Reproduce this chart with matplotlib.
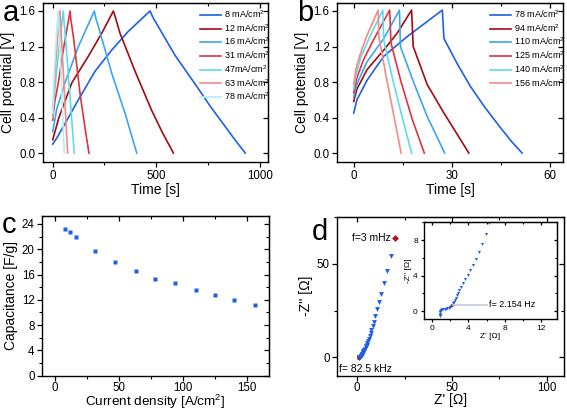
import matplotlib
matplotlib.use('Agg')
import matplotlib.pyplot as plt
from matplotlib.ticker import MultipleLocator

plt.rcParams['font.family'] = ['Liberation Sans', 'DejaVu Sans']
plt.rcParams['mathtext.fontset'] = 'custom'
plt.rcParams['mathtext.rm'] = 'Liberation Sans'

# panel a: galvanostatic charge/discharge, low current densities
a_labels = ['8 mA/cm$^2$', '12 mA/cm$^2$', '16 mA/cm$^2$', '31 mA/cm$^2$',
            '47mA/cm$^2$', '63 mA/cm$^2$', '78 mA/cm$^2$']
a_colors = ['#1f5fe8', '#a30a12', '#3aa6f2', '#e0323f', '#5fdbe8', '#f28a86', '#b2eef5']
a_time = [
    [0, 20, 59, 124, 204, 285, 365, 470, 486, 591, 696, 760, 820, 880, 930],
    [0, 30, 92, 172, 237, 293, 300, 325, 398, 478, 530, 583],
    [0, 20, 59, 124, 201, 208, 220, 285, 349, 406],
    [0, 10, 27, 51, 84, 88, 100, 132, 155, 175],
    [0, 8, 20, 35, 51, 55, 70, 88, 104],
    [0, 6, 14, 24, 35, 38, 48, 60, 72],
    [0, 5, 11, 18, 27, 30, 38, 47, 56],
]
a_volt = [
    [0.10, 0.17, 0.33, 0.60, 0.92, 1.16, 1.37, 1.60, 1.52, 1.10, 0.75, 0.53, 0.34, 0.15, 0.0],
    [0.15, 0.40, 0.79, 1.09, 1.35, 1.60, 1.55, 1.35, 0.92, 0.48, 0.23, 0.0],
    [0.24, 0.50, 0.79, 1.20, 1.60, 1.52, 1.43, 0.90, 0.45, 0.0],
    [0.37, 0.58, 0.79, 1.16, 1.60, 1.50, 1.31, 0.67, 0.30, 0.0],
    [0.40, 0.66, 0.95, 1.28, 1.60, 1.48, 1.05, 0.50, 0.0],
    [0.42, 0.70, 1.00, 1.30, 1.60, 1.48, 1.05, 0.52, 0.0],
    [0.45, 0.75, 1.05, 1.32, 1.60, 1.47, 1.05, 0.50, 0.0],
]

# panel b: galvanostatic charge/discharge, high current densities
b_labels = ['78 mA/cm$^2$', '94 mA/cm$^2$', '110 mA/cm$^2$', '125 mA/cm$^2$',
            '140 mA/cm$^2$', '156 mA/cm$^2$']
b_colors = ['#1f5fe8', '#a30a12', '#3aa6f2', '#e0323f', '#5fdbe8', '#f28a86']
b_time = [
    [0, 1, 4.1, 9.2, 16.3, 27.1, 27.6, 31.6, 35.7, 40, 45, 48.5, 51.5],
    [0, 1, 4.1, 9.2, 13.3, 17.7, 18.2, 22.5, 27.6, 31.5, 35.2],
    [0, 1, 4.1, 9.2, 14.0, 14.3, 18.4, 22.5, 25.5, 27.8],
    [0, 1, 3, 6, 11.0, 11.4, 14.5, 18, 21.6],
    [0, 0.8, 2.2, 4.8, 8.9, 9.2, 12, 15, 17.7],
    [0, 0.7, 1.8, 3.9, 7.5, 7.7, 10, 12.5, 14.5],
]
b_volt = [
    [0.45, 0.60, 0.82, 1.09, 1.31, 1.61, 1.29, 1.01, 0.75, 0.52, 0.28, 0.12, 0.0],
    [0.58, 0.72, 0.94, 1.16, 1.35, 1.61, 1.20, 0.77, 0.45, 0.22, 0.0],
    [0.63, 0.78, 1.03, 1.29, 1.61, 1.20, 0.79, 0.41, 0.18, 0.0],
    [0.68, 0.85, 1.05, 1.27, 1.61, 1.24, 0.80, 0.37, 0.0],
    [0.72, 0.90, 1.08, 1.30, 1.61, 1.27, 0.82, 0.38, 0.0],
    [0.77, 0.95, 1.09, 1.31, 1.61, 1.31, 0.85, 0.38, 0.0],
]

# panel c: capacitance vs current density
c_current = [8, 12, 16, 31, 47, 63, 78, 94, 110, 125, 140, 156]
c_capacitance = [23.2, 22.8, 22.0, 19.7, 17.9, 16.5, 15.3, 14.7, 13.5, 12.7, 11.9, 11.1]

# panel d: Nyquist plot
z_real = [0.85, 0.85, 0.86, 0.87, 0.89, 0.92, 0.98, 1.08, 1.2, 1.35, 1.5, 1.65, 1.8,
          1.95, 2.05, 2.15, 2.25, 2.35, 2.48, 2.6, 2.73, 2.87, 3.0, 3.12, 3.35, 3.6,
          3.9, 4.2, 4.53, 4.82, 5.16, 5.49, 5.89, 6.29, 6.7, 7.1, 7.6, 8.2, 8.9, 9.7,
          10.6, 11.6, 12.8, 14.2, 15.9, 17.7]
z_imag = [-0.6, -0.45, -0.3, -0.15, -0.02, 0.08, 0.15, 0.2, 0.22, 0.24, 0.26, 0.3, 0.36,
          0.45, 0.55, 0.68, 0.85, 1.05, 1.28, 1.52, 1.78, 2.05, 2.35, 2.68, 3.13, 3.59,
          4.08, 4.57, 5.21, 5.85, 6.64, 7.55, 8.68, 9.93, 11.3, 12.8, 14.5, 16.6, 19.0, 22.0,
          25.6, 29.6, 34.0, 39.5, 46.3, 54.0]
f_low = (20.1, 64.1)      # f = 3 mHz
f_high = (0.3, -0.3)      # f = 82.5 kHz
f_knee = (2.15, 0.68)     # f = 2.154 Hz

BLUE = '#1f5fe8'
RED = '#b0141c'
LABEL = 10


def style_axes(ax, xmaj, xmin, ymaj, ymin, size=8.3, length=3.5):
    ax.xaxis.set_major_locator(MultipleLocator(xmaj))
    ax.xaxis.set_minor_locator(MultipleLocator(xmin))
    ax.yaxis.set_major_locator(MultipleLocator(ymaj))
    ax.yaxis.set_minor_locator(MultipleLocator(ymin))
    ax.tick_params(which='major', direction='out', length=length, width=0.9, labelsize=size, pad=2)
    ax.tick_params(which='minor', direction='out', length=length * 0.6, width=0.8)
    for s in ax.spines.values():
        s.set_linewidth(1.0)
    top = ax.secondary_xaxis('top')
    right = ax.secondary_yaxis('right')
    for sec in (top, right):
        sec.tick_params(which='major', direction='in', length=length, width=0.9)
        sec.tick_params(which='minor', direction='in', length=length * 0.6, width=0.8)
    top.xaxis.set_major_locator(MultipleLocator(xmaj))
    top.xaxis.set_minor_locator(MultipleLocator(xmin))
    right.yaxis.set_major_locator(MultipleLocator(ymaj))
    right.yaxis.set_minor_locator(MultipleLocator(ymin))
    top.set_xticklabels([])
    right.set_yticklabels([])


def gcd_legend(ax):
    ax.legend(loc='upper right', frameon=False, fontsize=6.5, handlelength=2.4,
              handletextpad=0.25, labelspacing=0.22, borderaxespad=0.2,
              bbox_to_anchor=(1.03, 1.0))


fig = plt.figure(figsize=(5.67, 4.11), dpi=100)

# ---- a
ax_a = fig.add_axes([0.0758, 0.606, 0.3969, 0.3867])
for t, v, c, lab in zip(a_time, a_volt, a_colors, a_labels):
    ax_a.plot(t, v, color=c, lw=1.2, label=lab)
ax_a.set_xlim(-47, 1040)
ax_a.set_ylim(-0.1, 1.69)
style_axes(ax_a, 500, 250, 0.4, 0.4)
ax_a.set_xlabel('Time [s]', fontsize=LABEL, labelpad=1)
ax_a.set_ylabel('Cell potential [V]', fontsize=LABEL, labelpad=3)
gcd_legend(ax_a)

# ---- b
ax_b = fig.add_axes([0.5949, 0.606, 0.3981, 0.3867])
for t, v, c, lab in zip(b_time, b_volt, b_colors, b_labels):
    ax_b.plot(t, v, color=c, lw=1.2, label=lab)
ax_b.set_xlim(-5, 64)
ax_b.set_ylim(-0.1, 1.69)
style_axes(ax_b, 30, 15, 0.4, 0.4)
ax_b.set_xlabel('Time [s]', fontsize=LABEL, labelpad=1)
ax_b.set_ylabel('Cell potential [V]', fontsize=LABEL, labelpad=3)
gcd_legend(ax_b)

# ---- c
ax_c = fig.add_axes([0.0746, 0.0859, 0.3993, 0.3893])
ax_c.plot(c_current, c_capacitance, 's', color=BLUE, ms=3, mec='none')
ax_c.set_xlim(-10, 167)
ax_c.set_ylim(0, 25.3)
style_axes(ax_c, 50, 25, 4, 2)
ax_c.tick_params(axis='x', pad=1)
ax_c.set_xlabel('Current density [A/cm$^2$]', fontsize=9.7, labelpad=-1)
ax_c.set_ylabel('Capacitance [F/g]', fontsize=LABEL, labelpad=3)

# ---- d
ax_d = fig.add_axes([0.5949, 0.0859, 0.3998, 0.3869])
ax_d.plot(z_real, z_imag, 'v', color=BLUE, ms=3.5, mec='none')
ax_d.plot(*f_low, 'D', color=RED, ms=3.5, mec='none')
ax_d.plot(*f_high, 'o', color=RED, ms=2, mec='none')
ax_d.set_xlim(-10.4, 109)
ax_d.set_ylim(-9.9, 75.3)
style_axes(ax_d, 50, 25, 50, 25)
ax_d.tick_params(axis='x', pad=1)
ax_d.set_xlabel("Z' [\u03a9]", fontsize=LABEL, labelpad=-1)
ax_d.set_ylabel("-Z'' [\u03a9]", fontsize=LABEL, labelpad=3)
ax_d.text(f_low[0] - 2.3, f_low[1], 'f=3 mHz', fontsize=7.5, ha='right', va='center')
ax_d.text(-9.6, -6.4, 'f= 82.5 kHz', fontsize=7.5, ha='left', va='center')

ins = fig.add_axes([0.7478, 0.2238, 0.2346, 0.2353])
ins.plot(z_real, z_imag, 'v', color=BLUE, ms=2.2, mec='none')
ins.plot(*f_knee, 'o', color=RED, ms=2, mec='none')
ins.plot([f_knee[0] + 0.15, 6.0], [f_knee[1], f_knee[1]], color='#c3cbd9', lw=1.2)
ins.text(6.3, f_knee[1], 'f= 2.154 Hz', fontsize=6.5, ha='left', va='center')
ins.set_xlim(-0.92, 13.8)
ins.set_ylim(-0.9, 10.0)
style_axes(ins, 4, 2, 4, 2, size=6, length=2.5)
ins.set_xlabel("Z' [\u03a9]", fontsize=6, labelpad=0.5)
ins.set_ylabel("-Z'' [\u03a9]", fontsize=6, labelpad=0.5)

# panel letters
for x, y, s in ((0.004, 0.948, 'a'), (0.524, 0.950, 'b'), (0.003, 0.433, 'c'), (0.549, 0.416, 'd')):
    fig.text(x, y, s, fontsize=21, ha='left', va='baseline')

fig.savefig('out.png', dpi=100)
